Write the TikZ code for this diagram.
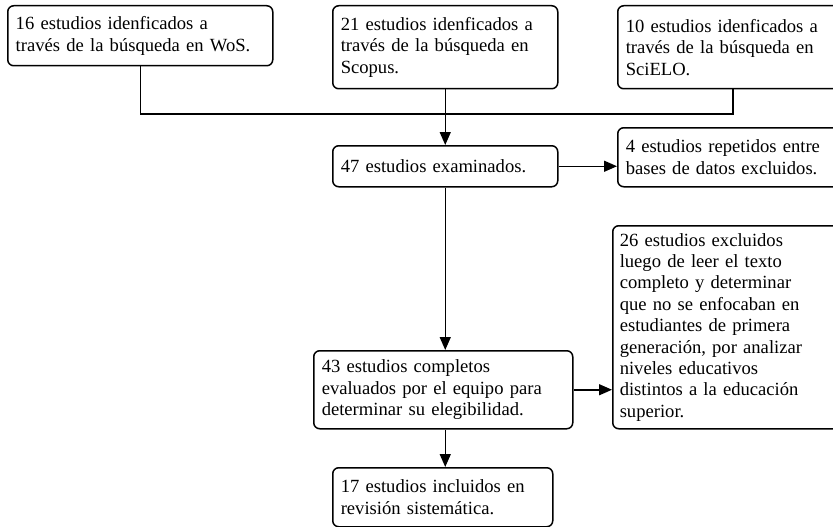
\documentclass[tikz,border=0pt]{standalone}
\usepackage{fontspec}
\setmainfont{Liberation Serif}
\usetikzlibrary{arrows.meta,calc}
\begin{document}
\begin{tikzpicture}[x=1pt,y=-1pt,
  box/.style={draw, line width=1.5pt, rounded corners=6pt, anchor=north west,
    align=left, inner sep=0pt, font=\fontsize{18.6}{21.4}\selectfont},
  arr/.style={line width=1.5pt, -{Triangle[length=13pt,width=11pt]}},
  ln/.style={line width=1.5pt}]
\useasboundingbox (0,0) rectangle (833,527);
\clip (0,0) rectangle (833,527);
\node[box, minimum width=265pt, minimum height=60pt, text width=249pt] (b1) at (7,5)
  {16 estudios idenficados a\\través de la búsqueda en WoS.};
\node[box, minimum width=225pt, minimum height=83pt, text width=209pt] (b2) at (332,5)
  {21 estudios idenficados a\\través de la búsqueda en\\Scopus.};
\node[box, minimum width=230pt, minimum height=83pt, text width=214pt] (b3) at (617,5)
  {10 estudios idenficados a\\través de la búsqueda en\\SciELO.};
\node[box, minimum width=225pt, minimum height=41pt, text width=209pt] (b4) at (332,145)
  {47 estudios examinados.};
\node[box, minimum width=230pt, minimum height=59pt, text width=214pt] (b5) at (617,127)
  {4 estudios repetidos entre\\bases de datos excluidos.};
\node[box, minimum width=235pt, minimum height=203pt, text width=221pt] (b6) at (612,225)
  {26 estudios excluidos\\luego de leer el texto\\completo y determinar\\que no se enfocaban en\\estudiantes de primera\\generación, por analizar\\niveles educativos\\distintos a la educación\\superior.};
\node[box, minimum width=259pt, minimum height=78pt, text width=243pt] (b7) at (313,350)
  {43 estudios completos\\evaluados por el equipo para\\determinar su elegibilidad.};
\node[box, minimum width=220pt, minimum height=59pt, text width=204pt] (b8) at (332,467)
  {17 estudios incluidos en\\revisión sistemática.};
\coordinate (jl) at (b1.south |- 0,114);
\coordinate (jr) at (b3.south |- 0,114);
\draw[ln] (b1.south) -- (jl) -- (jr) -- (b3.south);
\draw[arr] (b2.south) -- (b4.north);
\draw[arr] (b4.east) -- (b4.east -| b5.west);
\draw[arr] (b4.south) -- (b7.north -| b4.south);
\draw[arr] (b7.east) -- (b7.east -| b6.west);
\draw[arr] (b7.south -| b4.south) -- (b8.north -| b4.south);
\end{tikzpicture}
\end{document}
